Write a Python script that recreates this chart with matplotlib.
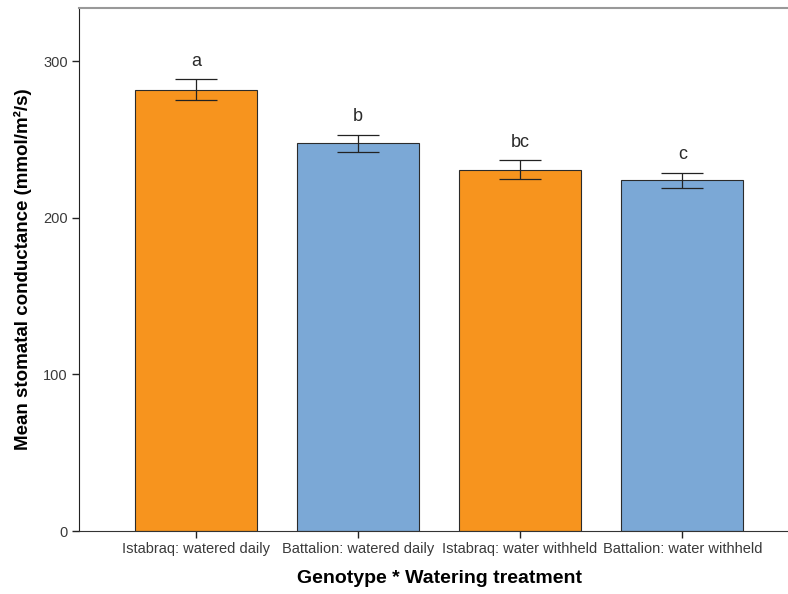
import numpy as np
import matplotlib.pyplot as plt

plt.rcParams['font.family'] = ['Liberation Sans', 'DejaVu Sans']

groups = ['Istabraq: watered daily', 'Battalion: watered daily',
          'Istabraq: water withheld', 'Battalion: water withheld']
means = [281.8, 247.5, 230.8, 224.0]
errors = [6.7, 5.7, 6.3, 4.9]
letters = ['a', 'b', 'bc', 'c']
colors = ['#F7941E', '#7BA8D6', '#F7941E', '#7BA8D6']

fig = plt.figure(figsize=(7.88, 5.94), dpi=100)
ax = fig.add_axes([0.1003, 0.106, 0.9137, 0.8805])

x = np.arange(len(groups))
ax.bar(x, means, width=0.755, color=colors, edgecolor='#2b2b2b', linewidth=0.8, zorder=2)
ax.errorbar(x, means, yerr=errors, fmt='none', ecolor='#222222', elinewidth=0.9,
            capsize=14.8, capthick=0.9, zorder=3)

# significance letters above each error bar
for xi, m, e, lab in zip(x, means, errors, letters):
    ax.annotate(lab, xy=(xi, m + e), xytext=(0, 9.5), textcoords='offset points',
                ha='center', va='baseline', fontsize=13, color='#2a2a2a')

ax.set_xlim(-0.72, 3.72)
ax.set_ylim(0, 334)
ax.set_yticks([0, 100, 200, 300])
ax.set_xticks(x)
ax.set_xticklabels(groups)
ax.tick_params(axis='both', labelsize=10.5, labelcolor='#3a3a3a', length=5,
               width=1, color='#222222', direction='out', pad=3)

ax.spines['right'].set_visible(False)
ax.spines['top'].set_color('#999999')
ax.spines['top'].set_linewidth(1.5)
ax.spines['left'].set_color('#222222')
ax.spines['bottom'].set_color('#333333')

ax.set_ylabel('Mean stomatal conductance (mmol/m²/s)', fontsize=13.5, fontweight='bold', labelpad=8)
ax.set_xlabel('Genotype * Watering treatment', fontsize=14, fontweight='bold', labelpad=10)

fig.savefig('out.png', dpi=100)
